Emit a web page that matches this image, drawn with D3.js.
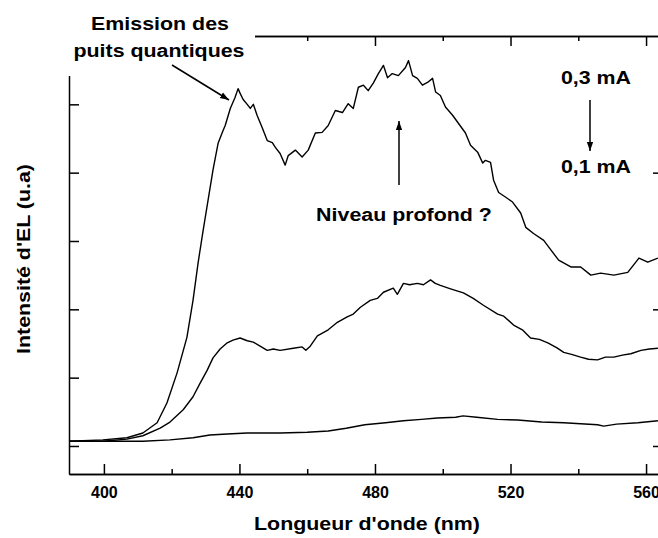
<!DOCTYPE html>
<html>
<head>
<meta charset="utf-8">
<script src="https://cdn.jsdelivr.net/npm/d3@7"></script>
<style>
  body { margin: 0; background: #fff; }
  svg { display: block; }
  text { font-family: "Liberation Sans", Arial, sans-serif; font-weight: bold; fill: #000; }
  .axis path, .axis line { stroke: #000; stroke-width: 1.5; }
  .curve { fill: none; stroke: #000; stroke-width: 1.4; stroke-linejoin: round; }
</style>
</head>
<body>
<svg id="chart" width="658" height="538"></svg>
<script>
// spectra: [wavelength nm, intensity a.u.]
var spectre03 = [
  [389.7,0.07],[399.7,0.09],[406.8,0.12],[411.5,0.19],[415.7,0.34],[418.6,0.63],[421.6,1.07],
  [424.5,1.59],[426.3,2.13],[427.8,2.68],[429.3,3.16],[432.2,4.04],[433.7,4.43],[435.2,4.62],
  [435.8,4.69],[437.3,4.94],[438.7,5.10],[439.6,5.23],[440.2,5.16],[441.1,5.07],[442.3,5.00],
  [443.2,4.94],[444.1,5.00],[445.2,4.84],[446.7,4.66],[448.2,4.47],[449.7,4.44],[450.6,4.37],
  [452.0,4.28],[453.5,4.11],[454.4,4.25],[456.5,4.33],[458.5,4.23],[460.3,4.33],[462.4,4.58],
  [464.4,4.59],[466.2,4.69],[468.3,4.91],[470.4,4.88],[472.1,5.01],[473.6,4.94],[475.1,5.25],
  [476.6,5.28],[478.0,5.20],[479.5,5.31],[481.0,5.45],[482.5,5.57],[483.7,5.39],[485.1,5.45],
  [486.9,5.42],[489.0,5.54],[489.9,5.64],[491.1,5.42],[492.5,5.38],[494.0,5.28],[495.5,5.32],
  [497.0,5.38],[497.9,5.18],[499.3,5.13],[500.8,4.96],[502.9,4.84],[506.7,4.58],[508.2,4.40],
  [510.3,4.30],[511.8,4.14],[512.6,4.18],[514.1,4.15],[515.0,3.89],[516.5,3.71],[518.6,3.64],
  [520.6,3.57],[523.0,3.41],[524.5,3.20],[526.8,3.11],[529.8,3.01],[531.9,2.87],[534.2,2.72],
  [537.8,2.62],[540.7,2.62],[543.7,2.50],[546.6,2.53],[550.5,2.50],[554.6,2.54],[557.9,2.75],
  [560.5,2.69],[563.5,2.75]
];
var spectre02 = [
  [389.7,0.07],[399.7,0.07],[406.8,0.10],[411.5,0.15],[416.6,0.26],[419.5,0.35],[423.4,0.53],
  [426.3,0.72],[428.4,0.92],[430.5,1.11],[432.2,1.29],[434.3,1.42],[436.4,1.51],[438.1,1.55],
  [440.2,1.58],[442.3,1.54],[444.1,1.52],[446.1,1.46],[448.2,1.40],[450.0,1.42],[452.0,1.40],
  [455.9,1.43],[458.5,1.45],[459.6,1.40],[460.9,1.46],[463.0,1.61],[466.2,1.70],[468.9,1.81],
  [471.8,1.89],[473.6,1.93],[475.7,2.03],[478.6,2.13],[480.7,2.16],[482.5,2.25],[485.4,2.31],
  [486.6,2.22],[488.4,2.38],[490.2,2.36],[492.5,2.38],[494.3,2.36],[496.4,2.43],[497.8,2.38],
  [499.3,2.35],[502.3,2.30],[506.1,2.24],[509.0,2.16],[512.0,2.06],[516.2,1.93],[518.0,1.90],
  [520.9,1.77],[523.5,1.70],[525.9,1.58],[528.5,1.56],[531.0,1.51],[533.6,1.44],[535.7,1.37],
  [538.0,1.34],[540.7,1.30],[543.0,1.27],[545.7,1.26],[548.0,1.30],[550.5,1.30],[553.0,1.33],
  [555.5,1.35],[558.5,1.40],[561.0,1.42],[563.5,1.43]
];
var spectre01 = [
  [389.7,0.07],[399.7,0.07],[411.5,0.07],[419.5,0.09],[426.3,0.12],[431.3,0.16],[436.4,0.175],
  [442.3,0.19],[452.0,0.19],[460.0,0.20],[466.2,0.22],[471.5,0.26],[477.0,0.31],[483.1,0.34],
  [488.4,0.37],[493.7,0.39],[498.4,0.41],[503.8,0.42],[506.0,0.44],[510.0,0.42],[516.2,0.39],
  [522.1,0.38],[529.2,0.35],[535.7,0.34],[545.7,0.31],[547.5,0.29],[551.3,0.32],[557.6,0.34],
  [563.5,0.37]
];
var xMajor = [400, 440, 480, 520, 560];
var xMinor = [420, 460, 500, 540];
var yLeftTicks = [0, 1, 2, 3, 4, 5];
var yRightTicks = [0, 2, 4];

var svg = d3.select('#chart');
var gauche = 69, droite = 663, haut = 36, bas = 474;

var x = d3.scaleLinear().domain([389.7, 565]).range([gauche, droite]);
var y = d3.scaleLinear().domain([-0.41, 6]).range([bas, haut]);

// frame with inward ticks
svg.append('g').attr('class', 'axis').attr('transform', 'translate(0,' + bas + ')')
    .call(d3.axisBottom(x).tickValues(xMajor).tickSizeInner(-10).tickSizeOuter(0).tickPadding(13)
        .tickFormat(d3.format('d')))
    .selectAll('text').attr('font-size', 16).attr('font-weight', 'bold').attr('font-family', null);
svg.append('g').attr('class', 'axis').attr('transform', 'translate(0,' + bas + ')')
    .call(d3.axisBottom(x).tickValues(xMinor).tickSizeInner(-5).tickSizeOuter(0).tickFormat(''));
svg.append('g').attr('class', 'axis').attr('transform', 'translate(0,' + haut + ')')
    .call(d3.axisTop(x).tickValues(xMajor).tickSizeInner(-10).tickSizeOuter(0).tickFormat(''));
svg.append('g').attr('class', 'axis').attr('transform', 'translate(0,' + haut + ')')
    .call(d3.axisTop(x).tickValues(xMinor).tickSizeInner(-5).tickSizeOuter(0).tickFormat(''));
svg.append('g').attr('class', 'axis').attr('transform', 'translate(' + gauche + ',0)')
    .call(d3.axisLeft(y).tickValues(yLeftTicks).tickSizeInner(-10).tickSizeOuter(0).tickFormat(''));
svg.append('g').attr('class', 'axis').attr('transform', 'translate(' + droite + ',0)')
    .call(d3.axisRight(y).tickValues(yRightTicks).tickSizeInner(-10).tickSizeOuter(0).tickFormat(''));

var line = d3.line().x(function (d) { return x(d[0]); }).y(function (d) { return y(d[1]); });

[spectre03, spectre02, spectre01].forEach(function (s) {
    svg.append('path').datum(s).attr('class', 'curve').attr('d', line);
});

// white box behind the top-left label hides the corner of the frame
svg.append('rect').attr('x', 0).attr('y', 0).attr('width', 255).attr('height', 76).attr('fill', '#fff');

svg.append('defs').append('marker')
    .attr('id', 'fleche')
    .attr('viewBox', '0 -5 10 10')
    .attr('refX', 10).attr('refY', 0)
    .attr('markerUnits', 'userSpaceOnUse')
    .attr('markerWidth', 9).attr('markerHeight', 9)
    .attr('orient', 'auto')
    .append('path').attr('d', 'M0,-3.5L10,0L0,3.5Z').attr('fill', '#000');

function label(txt, cx, by, fs) {
    svg.append('g').attr('transform', 'translate(' + cx + ',' + by + ') scale(1.15,1)')
        .append('text').attr('text-anchor', 'middle').attr('font-size', fs || 18.6).text(txt);
}
function arrow(x1, y1, x2, y2) {
    svg.append('line').attr('x1', x1).attr('y1', y1).attr('x2', x2).attr('y2', y2)
        .attr('stroke', '#000').attr('stroke-width', 1.5).attr('marker-end', 'url(#fleche)');
}

label('Emission des', 160, 30);
label('puits quantiques', 159, 57);
arrow(172, 65, 229, 100);

label('Niveau profond ?', 404, 221);
arrow(399, 185, 399, 121);

label('0,3 mA', 596, 84);
label('0,1 mA', 596, 173);
arrow(590, 100, 590, 151);

// axis titles
label("Longueur d'onde (nm)", 367, 530);
svg.append('g').attr('transform', 'translate(30,259) rotate(-90) scale(1.15,1)')
    .append('text').attr('text-anchor', 'middle').attr('font-size', 18.6).text("Intensité d'EL (u.a)");
</script>
</body>
</html>
